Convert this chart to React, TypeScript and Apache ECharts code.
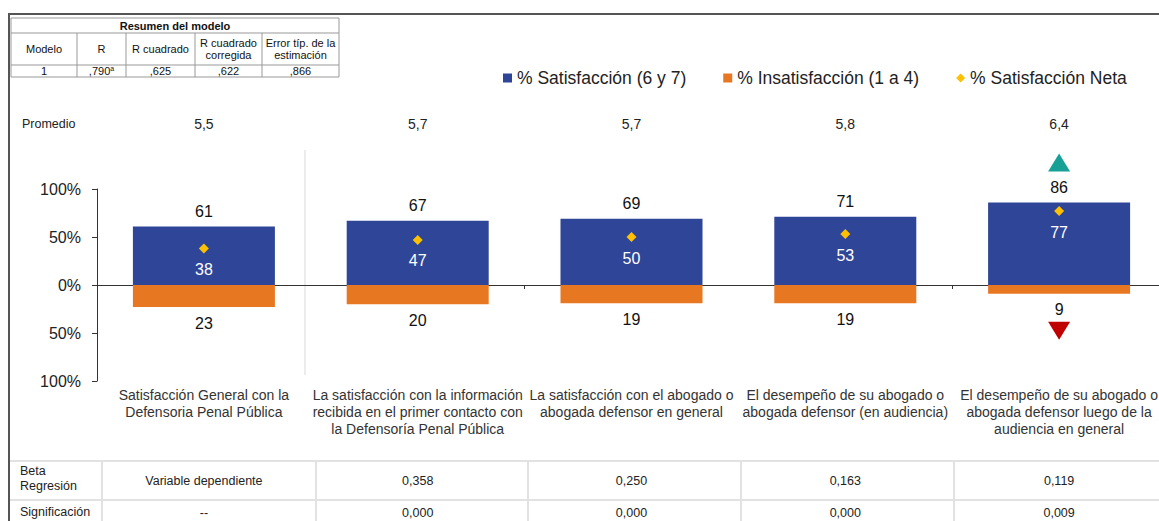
import React, { useEffect, useRef } from "react";
import * as echarts from "echarts";

const categories = [
  "Satisfacción General con la\nDefensoria Penal Pública",
  "La satisfacción con la información\nrecibida en el primer contacto con\nla Defensoría Penal Pública",
  "La satisfacción con el abogado o\nabogada defensor en general",
  "El desempeño de su abogado o\nabogada defensor (en audiencia)",
  "El desempeño de su abogado o\nabogada defensor luego de la\naudiencia en general",
];
const satisfaccion = [61, 67, 69, 71, 86];
const insatisfaccion = [23, 20, 19, 19, 9];
const satisfaccionNeta = [38, 47, 50, 53, 77];
const promedio = ["5,5", "5,7", "5,7", "5,8", "6,4"];
const betaRegresion = ["Variable dependiente", "0,358", "0,250", "0,163", "0,119"];
const significacion = ["--", "0,000", "0,000", "0,000", "0,009"];
const tendencia = ["", "", "", "", "both"];
const yTicks = [-100, -50, 0, 50, 100];

const modelHeaders = ["Modelo", "R", "R cuadrado", "R cuadrado\ncorregida", "Error típ. de la\nestimación"];
const modelValues = ["1", ",790", ",625", ",622", ",866"];

const FONT = "Liberation Sans, Arial, sans-serif";
const BLUE = "#2F4597";
const ORANGE = "#E87722";
const GOLD = "#FFC000";

export default function App() {
  const ref = useRef<HTMLDivElement>(null);
  useEffect(() => {
    if (!ref.current) return;
    const chart = echarts.init(ref.current, undefined, { renderer: "svg" });

    const colX = [11, 77, 126, 195, 262, 339];
    const graphics: any[] = [];
    // frame
    graphics.push({ type: "line", shape: { x1: 8, y1: 14, x2: 1159, y2: 14 }, style: { stroke: "#555", lineWidth: 2 } });
    graphics.push({ type: "line", shape: { x1: 9, y1: 14, x2: 9, y2: 521 }, style: { stroke: "#555", lineWidth: 2 } });
    // model summary table
    graphics.push({ type: "rect", shape: { x: 11, y: 18, width: 328, height: 59 }, style: { fill: "#fff", stroke: "#999", lineWidth: 1 } });
    graphics.push({ type: "line", shape: { x1: 11, y1: 33, x2: 339, y2: 33 }, style: { stroke: "#999", lineWidth: 1 } });
    graphics.push({ type: "line", shape: { x1: 11, y1: 65, x2: 339, y2: 65 }, style: { stroke: "#999", lineWidth: 1 } });
    for (let i = 1; i < colX.length - 1; i++) {
      graphics.push({ type: "line", shape: { x1: colX[i], y1: 33, x2: colX[i], y2: 77 }, style: { stroke: "#999", lineWidth: 1 } });
    }
    graphics.push({
      type: "text", x: 175, y: 25.5,
      style: { text: "Resumen del modelo", font: `bold 11px ${FONT}`, fill: "#111", align: "center", verticalAlign: "middle" },
    });
    modelHeaders.forEach((h, i) => {
      const cx = (colX[i] + colX[i + 1]) / 2;
      graphics.push({
        type: "text", x: cx, y: 49,
        style: { text: h, font: `11px ${FONT}`, fill: "#111", align: "center", verticalAlign: "middle", lineHeight: 12 },
      });
      const v = modelValues[i];
      graphics.push({
        type: "text", x: cx, y: 71,
        style: i === 1
          ? { text: `${v}{s|a}`, rich: { s: { fontSize: 7, verticalAlign: "top", padding: [0, 0, 6, 0] } }, font: `11px ${FONT}`, fill: "#111", align: "center", verticalAlign: "middle" }
          : { text: v, font: `11px ${FONT}`, fill: "#111", align: "center", verticalAlign: "middle" },
      });
    });
    // Promedio label
    graphics.push({
      type: "text", x: 22, y: 124,
      style: { text: "Promedio", font: `12.5px ${FONT}`, fill: "#222", verticalAlign: "middle" },
    });
    // separator
    graphics.push({ type: "line", shape: { x1: 305, y1: 150, x2: 305, y2: 375 }, style: { stroke: "#d9d9d9", lineWidth: 1 } });
    // bottom table grid
    graphics.push({ type: "line", shape: { x1: 10, y1: 461, x2: 1159, y2: 461 }, style: { stroke: "#e2e2e2", lineWidth: 2 } });
    graphics.push({ type: "line", shape: { x1: 10, y1: 500, x2: 1159, y2: 500 }, style: { stroke: "#e2e2e2", lineWidth: 2 } });
    [102, 316, 528, 741, 954].forEach((x) => {
      graphics.push({ type: "line", shape: { x1: x, y1: 461, x2: x, y2: 521 }, style: { stroke: "#e2e2e2", lineWidth: 2 } });
    });
    graphics.push({
      type: "text", x: 20, y: 478,
      style: { text: "Beta\nRegresión", font: `12.5px ${FONT}`, fill: "#222", verticalAlign: "middle", lineHeight: 15 },
    });
    graphics.push({
      type: "text", x: 20, y: 512,
      style: { text: "Significación", font: `12.5px ${FONT}`, fill: "#222", verticalAlign: "middle" },
    });

    const trendUp = tendencia.map((t, i) =>
      t ? { value: satisfaccion[i], symbol: "triangle", symbolSize: [22, 18], symbolOffset: [0, -40], itemStyle: { color: "#17A096", opacity: 1 } } : "-"
    );
    const trendDown = tendencia.map((t, i) =>
      t ? { value: -insatisfaccion[i], symbol: "triangle", symbolRotate: 180, symbolSize: [22, 18], symbolOffset: [0, 37], itemStyle: { color: "#C00000", opacity: 1 } } : "-"
    );

    const hiddenAxis = { axisLine: { show: false }, axisTick: { show: false }, splitLine: { show: false } };

    chart.setOption({
      animation: false,
      textStyle: { fontFamily: FONT },
      graphic: graphics,
      legend: {
        left: 503,
        top: 69,
        padding: 0,
        itemWidth: 9,
        itemHeight: 9,
        itemGap: 37,
        textStyle: { fontSize: 17.5, color: "#222", fontFamily: FONT },
        data: [
          { name: "% Satisfacción (6 y 7)", icon: "rect" },
          { name: "% Insatisfacción (1 a 4)", icon: "rect" },
          { name: "% Satisfacción Neta", icon: "diamond" },
        ],
      },
      grid: { left: 97, top: 189, width: 1069, height: 192, containLabel: false },
      xAxis: [
        {
          type: "category",
          data: categories,
          position: "bottom",
          axisLine: { onZero: true, lineStyle: { color: "#333", width: 1 } },
          axisTick: { show: true, length: 4, lineStyle: { color: "#333" } },
          axisLabel: { show: false },
          splitLine: { show: false },
        },
        {
          type: "category",
          data: categories,
          position: "bottom",
          ...hiddenAxis,
          axisLabel: { fontSize: 14, color: "#333", lineHeight: 17, margin: 5, interval: 0 },
        },
        {
          type: "category",
          data: promedio,
          position: "top",
          ...hiddenAxis,
          axisLabel: { fontSize: 14, color: "#222", margin: 58, interval: 0 },
        },
        {
          type: "category",
          data: betaRegresion,
          position: "bottom",
          offset: 93,
          ...hiddenAxis,
          axisLabel: { fontSize: 12.5, color: "#222", margin: 0, interval: 0 },
        },
        {
          type: "category",
          data: significacion,
          position: "bottom",
          offset: 125,
          ...hiddenAxis,
          axisLabel: { fontSize: 12.5, color: "#222", margin: 0, interval: 0 },
        },
      ],
      yAxis: {
        type: "value",
        min: -100,
        max: 100,
        interval: 50,
        axisLine: { show: true, lineStyle: { color: "#333" } },
        axisTick: { show: true, length: 5, lineStyle: { color: "#333" } },
        splitLine: { show: false },
        axisLabel: {
          fontSize: 16,
          color: "#222",
          margin: 16,
          formatter: (v: number) => (yTicks.includes(v) ? `${Math.abs(v)}%` : ""),
        },
      },
      series: [
        {
          name: "% Satisfacción (6 y 7)",
          type: "bar",
          stack: "total",
          barWidth: 142,
          data: satisfaccion,
          itemStyle: { color: BLUE },
          label: { show: true, position: "top", distance: 7, fontSize: 16, color: "#111" },
        },
        {
          name: "% Insatisfacción (1 a 4)",
          type: "bar",
          stack: "total",
          barWidth: 142,
          data: insatisfaccion.map((v) => -v),
          itemStyle: { color: ORANGE },
          label: {
            show: true, position: "bottom", distance: 8, fontSize: 16, color: "#111",
            formatter: (p: any) => `${Math.abs(p.value)}`,
          },
        },
        {
          name: "% Satisfacción Neta",
          type: "scatter",
          symbol: "diamond",
          symbolSize: 10,
          data: satisfaccionNeta,
          itemStyle: { color: GOLD, opacity: 1 },
          label: { show: true, position: "bottom", distance: 8, fontSize: 16, color: "#fff" },
          z: 5,
        },
        { name: "alza", type: "scatter", clip: false, data: trendUp, z: 5 },
        { name: "baja", type: "scatter", clip: false, data: trendDown, z: 5 },
      ],
    });
    return () => chart.dispose();
  }, []);

  return <div ref={ref} style={{ position: "fixed", left: 0, top: 0, width: 1170, height: 521, background: "#fff" }} />;
}
